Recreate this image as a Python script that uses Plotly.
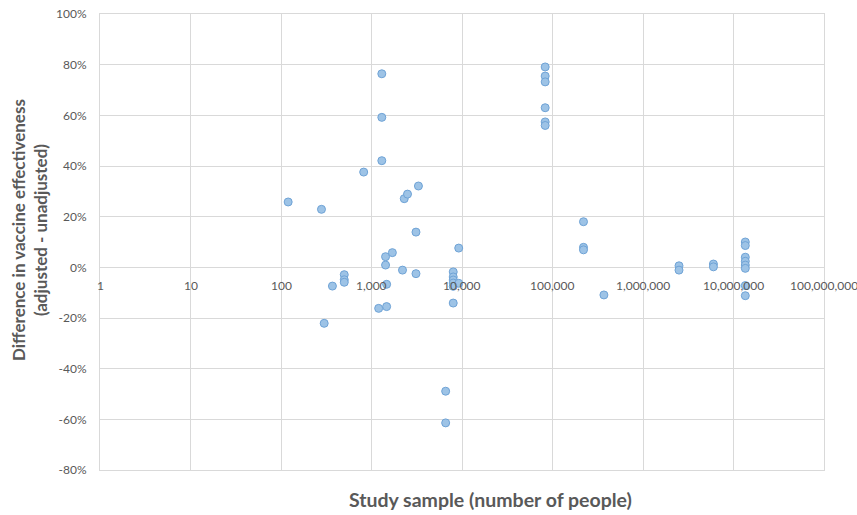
import math
import plotly.graph_objects as go

# ---- data ----
sample_size = [
    120, 280, 300, 370, 500, 500, 500, 820,
    1200, 1300, 1300, 1300, 1430, 1430, 1470, 1470, 1700,
    2200, 2300, 2500, 3100, 3100, 3300,
    6600, 6600, 8000, 8000, 8000, 8000, 8000, 8000, 9200, 9200,
    83000, 83000, 83000, 83000, 83000, 83000,
    220000, 220000, 220000, 370000,
    2500000, 2500000, 6000000, 6000000,
    13500000, 13500000, 13500000, 13500000, 13500000, 13500000, 13500000, 13500000,
]
ve_difference = [
    0.258, 0.229, -0.221, -0.074, -0.029, -0.049, -0.059, 0.376,
    -0.162, 0.764, 0.592, 0.421, 0.042, 0.009, -0.067, -0.155, 0.058,
    -0.011, 0.271, 0.289, 0.139, -0.025, 0.321,
    -0.489, -0.614, -0.018, -0.038, -0.050, -0.062, -0.075, -0.141, 0.076, -0.063,
    0.791, 0.755, 0.732, 0.630, 0.574, 0.560,
    0.180, 0.079, 0.069, -0.109,
    0.006, -0.011, 0.013, 0.002,
    0.100, 0.086, 0.040, 0.024, 0.009, -0.004, -0.072, -0.112,
]

x_tick_vals = [1, 10, 100, 1000, 10000, 100000, 1000000, 10000000, 100000000]
x_tick_text = ["1", "10", "100", "1,000", "10,000", "100,000", "1,000,000",
               "10,000,000", "100,000,000"]
y_tick_vals = [-0.8, -0.6, -0.4, -0.2, 0.0, 0.2, 0.4, 0.6, 0.8, 1.0]
y_tick_text = ["-80%", "-60%", "-40%", "-20%", "0%", "20%", "40%", "60%", "80%", "100%"]

x_title = "Study sample (number of people)"
y_title = "Difference in vaccine effectiveness<br>(adjusted - unadjusted)"

FONT = "Lato, 'Open Sans', sans-serif"
GRID = "#d9d9d9"
TEXT = "#595959"

W, H = 857, 515
ML, MR, MT, MB = 100, 33, 14, 45
pw, ph = W - ML - MR, H - MT - MB


def px_x(p):  # window pixel -> paper x
    return (p - ML) / pw


def px_y(p):  # window pixel -> paper y
    return (H - MB - p) / ph


fig = go.Figure()
fig.add_trace(go.Scatter(
    x=sample_size, y=ve_difference, mode="markers",
    marker=dict(size=8, color="#9dc3e6", line=dict(color="#6fa3d6", width=1)),
    showlegend=False, hoverinfo="x+y",
))

annotations = []
for v, t in zip(x_tick_vals, x_tick_text):
    annotations.append(dict(
        x=math.log10(v), y=0, xref="x", yref="y", text=t, showarrow=False,
        yanchor="top", xanchor="center", yshift=-9,
        font=dict(family=FONT, size=12, color=TEXT),
    ))
annotations.append(dict(
    x=px_x(490), y=px_y(499), xref="paper", yref="paper", text=x_title,
    showarrow=False, xanchor="center", yanchor="middle",
    font=dict(family=FONT, size=19.5, color=TEXT, weight="bold"),
))
annotations.append(dict(
    x=px_x(29), y=px_y(230), xref="paper", yref="paper", text=y_title,
    showarrow=False, xanchor="center", yanchor="middle", textangle=-90,
    font=dict(family=FONT, size=17, color=TEXT, weight="bold"),
))

fig.update_layout(
    width=W, height=H,
    margin=dict(l=ML, r=MR, t=MT, b=MB, autoexpand=False),
    paper_bgcolor="white", plot_bgcolor="white",
    font=dict(family=FONT, color=TEXT),
    annotations=annotations,
)

fig.update_xaxes(
    type="log", range=[0, 8], tickvals=x_tick_vals, showticklabels=False,
    showgrid=True, gridcolor=GRID, gridwidth=1,
    showline=True, mirror=True, linecolor=GRID, linewidth=1,
    zeroline=False, ticks="", automargin=False,
)
fig.update_yaxes(
    range=[-0.8, 1.0], tickvals=y_tick_vals, ticktext=y_tick_text,
    showgrid=True, gridcolor=GRID, gridwidth=1,
    showline=True, mirror=True, linecolor=GRID, linewidth=1,
    zeroline=True, zerolinecolor=GRID, zerolinewidth=1,
    ticks="", ticklabelstandoff=10, automargin=False,
    ticklabeloverflow="allow",
    tickfont=dict(family=FONT, size=12, color=TEXT),
)

fig.write_html(
    "out.html",
    config={"displayModeBar": False},
    post_script="document.body.style.margin='0';document.body.style.overflow='hidden';",
)
